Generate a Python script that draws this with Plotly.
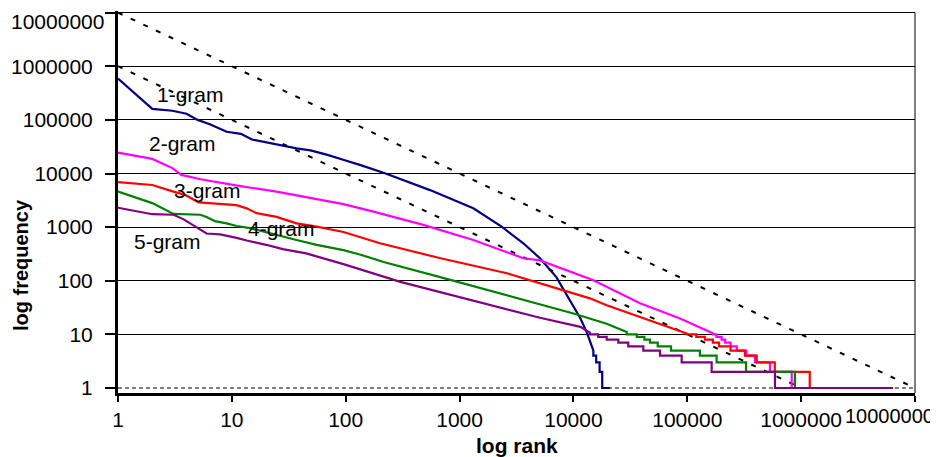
import plotly.graph_objects as go

# ---------------- data (rank, frequency) ----------------
rank_1gram = [1, 2, 3, 4, 5, 6.4, 9, 12, 15, 20, 28, 37, 49, 68, 95, 133, 221, 550,
              1320, 2340, 3630, 5080, 7080, 8430, 10000, 11500, 13060, 14960]
freq_1gram = [5.9e5, 1.6e5, 1.48e5, 1.3e5, 1.0e5, 8.3e4, 6.0e4, 5.5e4, 4.3e4, 3.8e4, 3.3e4,
              2.95e4, 2.7e4, 2.25e4, 1.8e4, 1.45e4, 1.01e4, 4.9e3, 2.24e3, 1.02e3, 500, 263,
              117, 62, 35, 20, 11.1, 5.0]
step_freq_1gram = [4, 3, 2, 1]
step_end_1gram = [15850, 16980, 17900, 20900]

rank_2gram = [1, 2, 3, 3.6, 5.3, 7.4, 12.6, 24.7, 48.5, 95.5, 175, 480, 1320, 3630,
              5080, 14960, 38400, 86300, 169000]
freq_2gram = [24500, 18700, 12600, 9400, 7800, 6900, 5700, 4600, 3470, 2690, 1950, 1100,
              575, 263, 240, 102, 38, 19.8, 10.4]
step_freq_2gram = [10, 9, 8, 7, 6, 5, 4, 3, 2, 1]
step_end_2gram = [180000, 200000, 215000, 240000, 272000, 330000, 393000, 532000, 826000, 3000000]

rank_3gram = [1, 2, 3.07, 3.87, 5.1, 6.4, 11, 13.5, 16.5, 24.7, 37, 55.6, 95.5, 200, 680,
              2600, 13960, 19600, 38400, 75300, 98800]
freq_3gram = [6900, 6100, 4600, 4000, 2900, 2790, 2570, 2240, 1820, 1550, 1175, 1020, 813,
              500, 263, 138, 47, 35, 21, 13, 10.4]
step_freq_3gram = [10, 9, 8, 7, 6, 5, 4, 3, 2, 1]
step_end_3gram = [120000, 143000, 168000, 190000, 240000, 321000, 407000, 587000, 1190000, 5000000]

rank_4gram = [1, 2, 3.07, 5.3, 6, 7.1, 9, 11, 14.4, 24.7, 37, 55.6, 95.5, 133, 215, 676,
              3160, 5080, 10000, 19600, 29400]
freq_4gram = [4600, 2800, 1760, 1700, 1550, 1290, 1175, 1050, 955, 708, 575, 468, 372, 309,
              224, 117, 47, 36, 24.5, 15.8, 11.1]
step_freq_4gram = [10, 9, 8, 7, 6, 5, 4, 3, 2, 1]
step_end_4gram = [36000, 42000, 47000, 55000, 72000, 129000, 181000, 328000, 883000, 4000000]

rank_5gram = [1, 2, 3.07, 3.74, 6, 7.9, 11, 13.5, 20, 28, 45, 68, 95.5, 302, 1230, 5080,
              11500, 13960]
freq_5gram = [2300, 1740, 1700, 1410, 760, 733, 631, 562, 468, 389, 324, 251, 204, 95.5,
              43.7, 20.4, 13.8, 10.8]
step_freq_5gram = [10, 9, 8, 7, 6, 5, 4, 3, 2, 1]
step_end_5gram = [16500, 19600, 24800, 30300, 41100, 57600, 89300, 163700, 589000, 6410000]

# reference lines
ref_upper_x = [1, 1e7]
ref_upper_y = [1e7, 1]
ref_lower_x = [1, 1e6]
ref_lower_y = [1e6, 1]
ref_one_x = [1, 1e7]
ref_one_y = [1, 1]

tick_values = [1, 10, 100, 1000, 10000, 100000, 1000000, 10000000]
y_tick_text = ["1", "10", "100", "1000", "10000", "100000", "1000000", ""]
x_tick_text = ["1", "10", "100", "1000", "10000", "100000", "1000000", ""]
top_y_label = "10000000"
right_x_label = "10000000"

series_names = ["1-gram", "2-gram", "3-gram", "4-gram", "5-gram"]
series_colors = ["#000080", "#FF00FF", "#FF0000", "#008000", "#800080"]
# label anchor positions (log10 rank, log10 freq)
label_x = [0.641, 0.566, 0.79, 1.44, 0.439]
label_y = [5.47, 4.553, 3.69, 2.98, 2.74]

FONT = "Liberation Sans, Arial, sans-serif"


def with_steps(ranks, freqs, step_freqs, step_ends):
    xs, ys = list(ranks), list(freqs)
    start = ranks[-1]
    for f, e in zip(step_freqs, step_ends):
        xs += [start, e]
        ys += [f, f]
        start = e
    return xs, ys


series = [
    with_steps(rank_1gram, freq_1gram, step_freq_1gram, step_end_1gram),
    with_steps(rank_2gram, freq_2gram, step_freq_2gram, step_end_2gram),
    with_steps(rank_3gram, freq_3gram, step_freq_3gram, step_end_3gram),
    with_steps(rank_4gram, freq_4gram, step_freq_4gram, step_end_4gram),
    with_steps(rank_5gram, freq_5gram, step_freq_5gram, step_end_5gram),
]

fig = go.Figure()

# hide the solid grid line at y = 1 and draw it dashed
fig.add_trace(go.Scatter(x=ref_one_x, y=ref_one_y, mode="lines",
                         line=dict(color="white", width=3), hoverinfo="skip"))
fig.add_trace(go.Scatter(x=ref_one_x, y=ref_one_y, mode="lines",
                         line=dict(color="black", width=1, dash="4px,3px"), hoverinfo="skip"))
fig.add_trace(go.Scatter(x=ref_upper_x, y=ref_upper_y, mode="lines",
                         line=dict(color="black", width=2, dash="5px,9px"), hoverinfo="skip"))
fig.add_trace(go.Scatter(x=ref_lower_x, y=ref_lower_y, mode="lines",
                         line=dict(color="black", width=2, dash="5px,9px"), hoverinfo="skip"))

for (xs, ys), name, color in zip(series, series_names, series_colors):
    fig.add_trace(go.Scatter(x=xs, y=ys, mode="lines", name=name,
                             line=dict(color=color, width=2.2)))

annotations = []
for name, lx, ly in zip(series_names, label_x, label_y):
    annotations.append(dict(x=lx, y=ly, xref="x", yref="y", text=name, showarrow=False,
                            font=dict(family=FONT, size=21, color="black"),
                            xanchor="center", yanchor="middle"))

Y_TOP = 7.03
Y_BOT = -0.093
plot_h = 53.53 * (Y_TOP - Y_BOT)   # px


def py(win_y):
    """window pixel y -> paper fraction"""
    return (392.7 - win_y) / plot_h


def px(win_x):
    """window pixel x -> paper fraction"""
    return (win_x - 118) / 797


annotations += [
    dict(x=px(936), y=py(415.5), xref="paper", yref="paper", text=right_x_label,
         showarrow=False, font=dict(family=FONT, size=20, color="black"),
         xanchor="right", yanchor="middle"),
    dict(x=px(106), y=py(22), xref="paper", yref="paper", text=top_y_label,
         showarrow=False, font=dict(family=FONT, size=21, color="black"),
         xanchor="right", yanchor="middle"),
    dict(x=0.5, y=py(445), xref="paper", yref="paper", text="<b>log rank</b>", showarrow=False,
         font=dict(family=FONT, size=21, color="black"), xanchor="center", yanchor="middle"),
    dict(x=px(21), y=py(265), xref="paper", yref="paper", text="<b>log frequency</b>",
         showarrow=False, textangle=-90,
         font=dict(family=FONT, size=20, color="black"), xanchor="center", yanchor="middle"),
]

# the page body adds an 8 px offset, so the figure is sized to the visible area
top_margin = (13 - 53.53 * (Y_TOP - 7)) - 8
bottom_margin = 449 - top_margin - plot_h
fig.update_layout(
    width=930, height=449,
    margin=dict(l=110, r=23, t=top_margin, b=bottom_margin, autoexpand=False),
    paper_bgcolor="white", plot_bgcolor="white",
    showlegend=False,
    font=dict(family=FONT, color="black"),
    annotations=annotations,
    shapes=[dict(type="line", xref="paper", yref="paper", x0=1, x1=1, y0=0, y1=py(13),
                 line=dict(color="black", width=1))],
)
fig.update_xaxes(type="log", range=[0, 7], tickmode="array", tickvals=tick_values,
                 ticktext=x_tick_text, ticks="outside", ticklen=6, tickwidth=1.5,
                 tickcolor="black", showline=True, linewidth=3, linecolor="black",
                 showgrid=False, zeroline=False, ticklabelstandoff=0, automargin=False,
                 tickfont=dict(family=FONT, size=21, color="black"))
fig.update_yaxes(type="log", range=[Y_BOT, Y_TOP], tickmode="array", tickvals=tick_values,
                 ticktext=y_tick_text, ticks="outside", ticklen=10, tickwidth=1.5,
                 tickcolor="black", showline=True, linewidth=3, linecolor="black",
                 showgrid=True, gridcolor="black", gridwidth=1, zeroline=False,
                 ticklabelstandoff=8, automargin=False,
                 tickfont=dict(family=FONT, size=21, color="black"))

fig.write_html("out.html")
